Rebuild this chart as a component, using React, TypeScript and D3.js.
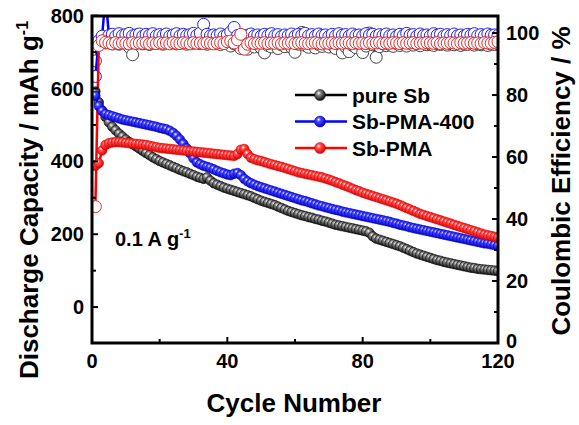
import React from 'react';
import * as d3 from 'd3';

// ---------- data ----------
const cycleCount = 120;
const xTicksMajor = [0, 40, 80, 120];
const xTicksMinor = [20, 60, 100];
const yLeftMajor = [0, 200, 400, 600, 800];
const yLeftMinor = [100, 300, 500, 700];
const yRightMajor = [0, 20, 40, 60, 80, 100];
const yRightMinor = [10, 30, 50, 70, 90];

const seriesNames = ['pure Sb', 'Sb-PMA-400', 'Sb-PMA'];

const pureSbCap = [
  592, 562, 540, 522, 507, 495, 485, 476, 468, 460,
  453, 447, 441, 435, 429, 423, 417, 411, 406, 401,
  397, 393, 389, 385, 381, 377, 373, 370, 366, 362,
  358, 355, 352, 356, 347, 340, 336, 332, 328, 325,
  322, 319, 316, 313, 310, 307, 304, 300, 296, 292,
  289, 286, 283, 280, 276, 272, 268, 264, 261, 258,
  255, 252, 250, 247, 245, 242, 240, 237, 235, 232,
  229, 226, 224, 222, 220, 218, 216, 214, 212, 210,
  208, 204, 194, 188, 185, 182, 179, 176, 173, 170,
  167, 163, 159, 155, 151, 147, 144, 141, 138, 135,
  132, 129, 127, 124, 122, 120, 118, 116, 114, 112,
  110, 108, 107, 105, 104, 103, 102, 101, 100, 99,
];

const sbPma400Cap = [
  580, 552, 538, 530, 527, 524, 521, 518, 515, 513,
  511, 509, 507, 505, 503, 501, 499, 497, 495, 492,
  490, 488, 484, 478, 470, 460, 448, 436, 422, 408,
  397, 392, 388, 385, 382, 378, 374, 370, 367, 364,
  362, 366, 368, 362, 352, 345, 340, 336, 332, 329,
  326, 323, 320, 317, 314, 311, 308, 305, 302, 299,
  296, 293, 291, 288, 285, 282, 279, 277, 274, 272,
  269, 267, 265, 262, 260, 258, 256, 254, 252, 250,
  248, 246, 244, 242, 240, 238, 236, 234, 231, 229,
  226, 224, 222, 219, 217, 215, 213, 211, 209, 207,
  205, 203, 201, 199, 197, 195, 193, 191, 189, 187,
  185, 183, 181, 179, 177, 175, 174, 172, 170, 168,
];

const sbPmaCap = [
  388, 395, 430, 445, 450, 452, 453, 453, 452, 451,
  450, 449, 448, 447, 446, 445, 443, 441, 439, 437,
  436, 435, 434, 433, 432, 431, 430, 429, 428, 427,
  426, 425, 424, 423, 422, 421, 420, 419, 418, 417,
  416, 415, 420, 432, 434, 420, 410, 406, 403, 401,
  398, 395, 392, 390, 387, 385, 382, 379, 376, 373,
  370, 368, 366, 364, 362, 360, 358, 356, 353, 350,
  347, 343, 340, 336, 333, 329, 325, 321, 318, 314,
  311, 308, 305, 302, 299, 296, 293, 290, 287, 284,
  280, 276, 272, 268, 264, 260, 256, 253, 250, 247,
  244, 241, 238, 235, 232, 229, 226, 223, 220, 217,
  214, 211, 208, 205, 202, 199, 197, 195, 193, 191,
];

const pureSbCE = [
  91, 97.0, 97.5, 96.8, 97.2, 96.5, 97.0, 96.4, 97.3, 96.8,
  95.5, 93.0, 96.8, 97.2, 96.5, 97.0, 96.3, 97.4, 96.7, 97.1,
  96.4, 97.3, 96.8, 97.0, 96.5, 97.2, 96.9, 96.4, 97.1, 96.7,
  97.3, 96.6, 97.0, 96.4, 97.2, 96.8, 97.5, 96.3, 97.0, 96.9,
  95.8, 96.5, 97.2, 95.0, 96.6, 94.8, 96.9, 95.5, 96.3, 95.2,
  93.6, 96.0, 95.5, 96.8, 95.0, 96.2, 95.6, 96.7, 95.3, 93.8,
  96.4, 100.2, 96.0, 95.4, 96.6, 95.2, 96.3, 95.7, 96.8, 95.5,
  96.2, 95.0, 96.4, 93.6, 95.5, 94.0, 96.0, 95.3, 96.5, 93.7,
  95.8, 100.0, 96.2, 92.2, 95.6, 96.5, 95.9, 96.3, 95.7, 96.6,
  96.0, 96.4, 95.8, 96.7, 96.1, 96.5, 95.9, 96.8, 96.2, 96.4,
  96.0, 96.6, 96.3, 96.7, 96.1, 96.5, 96.2, 96.8, 96.0, 96.4,
  96.3, 96.7, 96.1, 96.5, 96.2, 96.6, 96.0, 96.4, 96.3, 96.5,
];

const sbPma400CE = [
  86, 97.5, 99.0, 112, 99.2, 99.6, 99.0, 99.8, 99.2, 99.5,
  99.9, 99.1, 99.4, 99.7, 99.0, 99.6, 99.3, 99.8, 99.1, 99.5,
  99.2, 99.7, 99.0, 99.4, 99.8, 99.1, 99.6, 99.2, 99.5, 99.9,
  99.3, 100.0, 102.8, 99.6, 99.1, 99.4, 99.2, 99.7, 99.0, 99.5,
  100.4, 101.8, 99.2, 99.4, 98.9, 99.3, 99.7, 99.1, 99.4, 99.0,
  99.6, 99.2, 99.8, 99.1, 99.5, 98.9, 99.4, 99.2, 99.7, 99.0,
  99.6, 99.3, 99.9, 99.1, 99.5, 99.0, 99.7, 99.2, 99.4, 98.9,
  99.6, 99.1, 99.8, 99.3, 99.5, 99.0, 99.7, 99.2, 99.4, 99.1,
  99.8, 99.3, 99.6, 99.0, 99.5, 99.2, 99.7, 99.1, 99.4, 98.9,
  99.6, 99.2, 99.9, 99.3, 99.5, 99.0, 99.7, 99.2, 99.4, 99.1,
  99.8, 99.3, 99.6, 99.0, 99.5, 99.2, 99.7, 99.1, 99.4, 99.0,
  99.6, 99.3, 99.8, 99.1, 99.5, 99.2, 99.7, 99.3, 99.4, 99.2,
];

const sbPmaCE = [
  44, 96.0, 97.5, 97.0, 96.8, 96.5, 96.9, 96.6, 96.8, 96.7,
  96.5, 96.9, 96.6, 96.8, 96.7, 96.9, 96.5, 96.8, 96.6, 96.9,
  96.7, 96.8, 96.5, 96.9, 96.7, 96.6, 96.9, 96.8, 96.5, 96.9,
  96.7, 96.8, 96.6, 96.9, 96.7, 96.5, 96.8, 96.9, 96.6, 97.2,
  97.4, 96.8, 97.8, 99.6, 94.8, 96.4, 96.9, 96.6, 96.8, 96.7,
  96.9, 96.6, 96.8, 96.7, 96.9, 96.5, 96.8, 96.7, 96.9, 96.6,
  96.8, 96.9, 96.7, 96.6, 96.8, 96.9, 96.7, 96.5, 96.8, 96.7,
  96.9, 96.6, 96.8, 96.7, 96.9, 96.8, 96.6, 96.9, 96.7, 96.8,
  96.6, 96.9, 96.7, 96.8, 96.9, 96.6, 96.8, 96.7, 96.9, 96.8,
  96.6, 96.9, 96.7, 96.8, 96.9, 96.6, 96.8, 96.7, 96.9, 96.8,
  96.7, 96.9, 96.6, 96.8, 96.7, 96.9, 96.8, 96.6, 96.9, 96.7,
  96.8, 96.9, 96.7, 96.8, 96.6, 96.9, 96.8, 96.7, 97.0, 97.2,
];

// ---------- styling ----------
const W = 579;
const H = 425;
const FONT = '"Liberation Sans", Arial, sans-serif';

const series = [
  { name: seriesNames[0], cap: pureSbCap, ce: pureSbCE, line: '#000000', ceStroke: '#444444', grad: 'gBlack', c0: '#ffffff', c1: '#8a8a8a', c2: '#0a0a0a' },
  { name: seriesNames[1], cap: sbPma400Cap, ce: sbPma400CE, line: '#0000ff', ceStroke: '#2020f0', grad: 'gBlue', c0: '#ffffff', c1: '#4a4aff', c2: '#0000cc' },
  { name: seriesNames[2], cap: sbPmaCap, ce: sbPmaCE, line: '#ff0000', ceStroke: '#e02a2a', grad: 'gRed', c0: '#ffffff', c1: '#ff5050', c2: '#dd0000' },
];

export default function App() {
  const x = d3.scaleLinear().domain([0, 120]).range([92, 498]);
  const yL = d3.scaleLinear().domain([-100, 800]).range([343.5, 15.7]);
  const yR = d3.scaleLinear().domain([0, 105.5]).range([343, 16]);
  const left = 92, right = 498, top = 16, bottom = 343;
  const cyc = d3.range(1, cycleCount + 1);

  const capLine = (vals: number[]) =>
    d3.line<number>().x((_, i) => x(cyc[i])).y((v) => yL(v))(vals) || '';
  const ceLine = (vals: number[]) =>
    d3.line<number>().x((_, i) => x(cyc[i])).y((v) => yR(v))(vals) || '';

  const legendY = [95, 121.5, 148];

  return (
    <svg width={W} height={H} style={{ position: 'absolute', left: 0, top: 0, background: '#fff' }} fontFamily={FONT}>
      <defs>
        {series.map((s) => (
          <radialGradient key={s.grad} id={s.grad} cx="40%" cy="38%" r="62%" fx="38%" fy="32%">
            <stop offset="0%" stopColor={s.c0} />
            <stop offset="30%" stopColor={s.c1} />
            <stop offset="100%" stopColor={s.c2} />
          </radialGradient>
        ))}
        <clipPath id="plotClip">
          <rect x={left} y={top} width={right - left} height={bottom - top} />
        </clipPath>
      </defs>
      <rect x={0} y={0} width={W} height={H} fill="#fff" />

      <g clipPath="url(#plotClip)">
        {/* Coulombic efficiency (open circles) */}
        {series.map((s) => (
          <g key={'ce' + s.name}>
            <path d={ceLine(s.ce)} fill="none" stroke={s.line} strokeWidth={2.5} />
            {s.ce.map((v, i) => (
              <circle key={i} cx={x(cyc[i])} cy={yR(v)} r={6} fill="#fff" stroke={s.ceStroke} strokeWidth={1} />
            ))}
          </g>
        ))}
        {/* Discharge capacity (spheres) */}
        {series.map((s) => (
          <g key={'cap' + s.name}>
            <path d={capLine(s.cap)} fill="none" stroke={s.line} strokeWidth={2.5} />
            {s.cap.map((v, i) => (
              <circle key={i} cx={x(cyc[i])} cy={yL(v)} r={4.8} fill={`url(#${s.grad})`} stroke={s.c2} strokeWidth={0.6} />
            ))}
          </g>
        ))}
      </g>

      {/* frame */}
      <rect x={left} y={top} width={right - left} height={bottom - top} fill="none" stroke="#000" strokeWidth={3} />

      {/* x ticks */}
      {xTicksMajor.map((t) => (
        <g key={'xt' + t}>
          <line x1={x(t)} x2={x(t)} y1={bottom} y2={bottom - 6} stroke="#000" strokeWidth={2} />
          <text x={x(t)} y={368} textAnchor="middle" fontSize={20} fontWeight="bold">{t}</text>
        </g>
      ))}
      {xTicksMinor.map((t) => (
        <line key={'xm' + t} x1={x(t)} x2={x(t)} y1={bottom} y2={bottom - 4} stroke="#000" strokeWidth={2} />
      ))}

      {/* left ticks */}
      {yLeftMajor.map((t) => (
        <g key={'yl' + t}>
          <line x1={left} x2={left + 6} y1={yL(t)} y2={yL(t)} stroke="#000" strokeWidth={2} />
          <text x={84} y={yL(t) + 7} textAnchor="end" fontSize={20} fontWeight="bold">{t}</text>
        </g>
      ))}
      {yLeftMinor.map((t) => (
        <line key={'ylm' + t} x1={left} x2={left + 4} y1={yL(t)} y2={yL(t)} stroke="#000" strokeWidth={2} />
      ))}

      {/* right ticks */}
      {yRightMajor.map((t) => (
        <g key={'yr' + t}>
          <line x1={right} x2={right - 6} y1={yR(t)} y2={yR(t)} stroke="#000" strokeWidth={2} />
          <text x={506} y={yR(t) + (t === 0 ? 5 : 7)} textAnchor="start" fontSize={20} fontWeight="bold">{t}</text>
        </g>
      ))}
      {yRightMinor.map((t) => (
        <line key={'yrm' + t} x1={right} x2={right - 4} y1={yR(t)} y2={yR(t)} stroke="#000" strokeWidth={2} />
      ))}

      {/* axis titles */}
      <text x={294} y={412} textAnchor="middle" fontSize={26} fontWeight="bold">Cycle Number</text>
      <text transform="translate(38,200) rotate(-90)" textAnchor="middle" fontSize={26} fontWeight="bold">
        Discharge Capacity / mAh g<tspan fontSize={16} dy={-10}>-1</tspan>
      </text>
      <text transform="translate(570,181) rotate(-90)" textAnchor="middle" fontSize={26} fontWeight="bold">
        Coulombic Efficiency / %
      </text>

      {/* annotation */}
      <text x={115} y={246} fontSize={20} fontWeight="bold">
        0.1 A g<tspan fontSize={13} dy={-8}>-1</tspan>
      </text>

      {/* legend */}
      {series.map((s, i) => (
        <g key={'lg' + s.name}>
          <line x1={295} x2={347} y1={legendY[i]} y2={legendY[i]} stroke={s.line} strokeWidth={2.5} />
          <circle cx={320} cy={legendY[i]} r={5.5} fill={`url(#${s.grad})`} stroke={s.c2} strokeWidth={0.5} />
          <text x={352} y={legendY[i] + 7.5} fontSize={21} fontWeight="bold">{s.name}</text>
        </g>
      ))}
    </svg>
  );
}
